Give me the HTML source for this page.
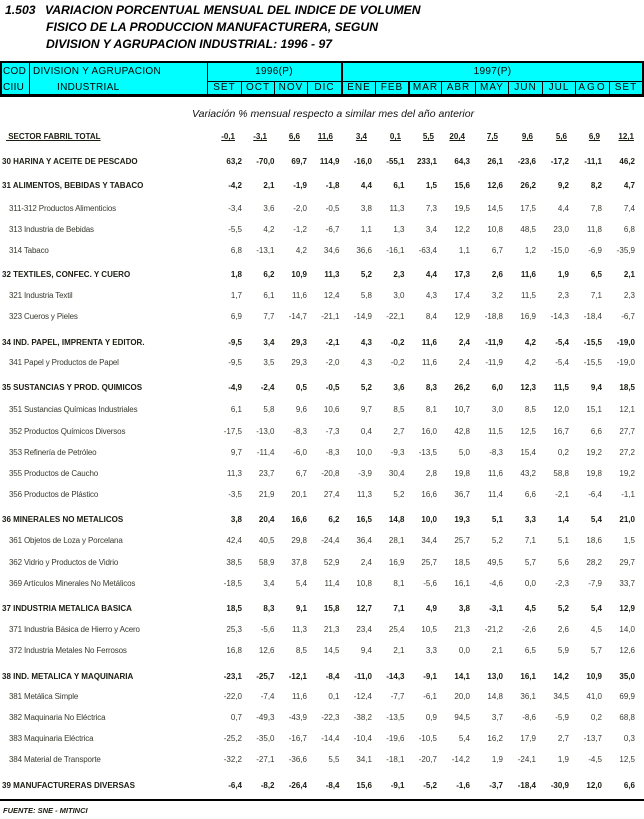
<!DOCTYPE html>
<html>
<head>
<meta charset="utf-8">
<style>
html,body{margin:0;padding:0;}
body{width:644px;height:819px;position:relative;overflow:hidden;background:#fff;font-family:"Liberation Sans",Arial,sans-serif;color:#000;}
.a{position:absolute;white-space:nowrap;}
.t{position:absolute;font-weight:bold;font-style:italic;font-size:12.2px;line-height:17px;height:17px;white-space:nowrap;color:#000;}
.k{position:absolute;background:#000;}
.h{position:absolute;font-size:10px;line-height:12px;height:12px;letter-spacing:0.3px;white-space:nowrap;color:#000;}
.m{position:absolute;top:82px;font-size:10px;line-height:12px;height:12px;letter-spacing:1px;text-align:center;white-space:nowrap;color:#000;}
.r{position:absolute;left:0;width:644px;height:10px;line-height:10px;font-size:8px;color:#3a3a30;white-space:nowrap;}
.r.b{font-weight:bold;color:#1c1c12;}
.r .l{position:absolute;left:9px;letter-spacing:-0.15px;}
.r.b .l{left:2px;letter-spacing:0;}
.r i{font-style:normal;position:absolute;width:40px;text-align:right;}
.r i:nth-of-type(1){left:202px}
.r i:nth-of-type(2){left:234.5px}
.r i:nth-of-type(3){left:267px}
.r i:nth-of-type(4){left:299.5px}
.r i:nth-of-type(5){left:332px}
.r i:nth-of-type(6){left:364.5px}
.r i:nth-of-type(7){left:397px}
.r i:nth-of-type(8){left:430px}
.r i:nth-of-type(9){left:463px}
.r i:nth-of-type(10){left:496px}
.r i:nth-of-type(11){left:529px}
.r i:nth-of-type(12){left:562px}
.r i:nth-of-type(13){left:595px}
.s i{text-decoration:underline;}
.s .l{text-decoration:underline;left:6px !important;}
.s i:nth-of-type(1){left:195px}
.s i:nth-of-type(2){left:227px}
.s i:nth-of-type(3){left:260px}
.s i:nth-of-type(4){left:293px}
.s i:nth-of-type(5){left:327px}
.s i:nth-of-type(6){left:361px}
.s i:nth-of-type(7){left:394px}
.s i:nth-of-type(8){left:425px}
.s i:nth-of-type(9){left:458px}
.s i:nth-of-type(10){left:493px}
.s i:nth-of-type(11){left:527px}
.s i:nth-of-type(12){left:560px}
.s i:nth-of-type(13){left:594px}
</style>
</head>
<body>

<!-- Title -->
<div class="t" style="left:5px;top:1.5px;">1.503</div>
<div class="t" style="left:45px;top:1.5px;">VARIACION PORCENTUAL MENSUAL DEL INDICE DE VOLUMEN</div>
<div class="t" style="left:46px;top:18.5px;">FISICO DE LA PRODUCCION MANUFACTURERA, SEGUN</div>
<div class="t" style="left:46px;top:35.5px;">DIVISION Y AGRUPACION INDUSTRIAL: 1996 - 97</div>

<!-- Header box -->
<div class="a" style="left:0;top:61px;width:644px;height:36px;background:#00ffff;"></div>
<div class="k" style="left:0;top:61px;width:644px;height:2px;"></div>
<div class="k" style="left:0;top:94px;width:644px;height:3px;"></div>
<div class="k" style="left:0;top:61px;width:2px;height:36px;"></div>
<div class="k" style="left:642px;top:61px;width:2px;height:36px;"></div>
<div class="k" style="left:207px;top:81px;width:437px;height:1px;"></div>
<div class="k" style="left:29px;top:61px;width:1px;height:36px;"></div>
<div class="k" style="left:207px;top:61px;width:1px;height:36px;"></div>
<div class="k" style="left:341px;top:61px;width:2px;height:36px;"></div>
<div class="k" style="left:241px;top:81px;width:1px;height:14px;"></div>
<div class="k" style="left:274px;top:81px;width:1px;height:14px;"></div>
<div class="k" style="left:307px;top:81px;width:1px;height:14px;"></div>
<div class="k" style="left:375px;top:81px;width:1px;height:14px;"></div>
<div class="k" style="left:408px;top:81px;width:2px;height:14px;"></div>
<div class="k" style="left:441px;top:81px;width:1px;height:14px;"></div>
<div class="k" style="left:475px;top:81px;width:1px;height:14px;"></div>
<div class="k" style="left:508px;top:81px;width:1px;height:14px;"></div>
<div class="k" style="left:542px;top:81px;width:1px;height:14px;"></div>
<div class="k" style="left:575px;top:81px;width:1px;height:14px;"></div>
<div class="k" style="left:609px;top:81px;width:1px;height:14px;"></div>

<div class="h" style="left:3px;top:66px;">COD</div>
<div class="h" style="left:33px;top:66px;">DIVISION Y AGRUPACION</div>
<div class="h" style="left:3px;top:82px;">CIIU</div>
<div class="h" style="left:57px;top:82px;">INDUSTRIAL</div>
<div class="h" style="left:207px;width:134px;text-align:center;top:66px;">1996(P)</div>
<div class="h" style="left:343px;width:299px;text-align:center;top:66px;">1997(P)</div>

<div class="m" style="left:208px;width:33px;">SET</div>
<div class="m" style="left:242px;width:32px;">OCT</div>
<div class="m" style="left:275px;width:32px;">NOV</div>
<div class="m" style="left:308px;width:33px;">DIC</div>
<div class="m" style="left:343px;width:32px;">ENE</div>
<div class="m" style="left:376px;width:32px;">FEB</div>
<div class="m" style="left:410px;width:31px;">MAR</div>
<div class="m" style="left:442px;width:33px;">ABR</div>
<div class="m" style="left:476px;width:32px;">MAY</div>
<div class="m" style="left:509px;width:33px;">JUN</div>
<div class="m" style="left:543px;width:32px;">JUL</div>
<div class="m" style="left:576px;width:33px;letter-spacing:2px;">AGO</div>
<div class="m" style="left:610px;width:32px;">SET</div>

<!-- Subtitle -->
<div class="a" style="left:192px;top:108px;font-size:10.5px;line-height:12px;font-style:italic;color:#111;">Variación % mensual respecto a similar mes del año anterior</div>

<!-- Rows -->
<div class="r b s" style="top:132px;"><span class="l">&nbsp;SECTOR FABRIL TOTAL</span><i>-0,1</i><i>-3,1</i><i>6,6</i><i>11,6</i><i>3,4</i><i>0,1</i><i>5,5</i><i>20,4</i><i>7,5</i><i>9,6</i><i>5,6</i><i>6,9</i><i>12,1</i></div>

<div class="r b" style="top:157px;"><span class="l">30 HARINA Y ACEITE DE PESCADO</span><i>63,2</i><i>-70,0</i><i>69,7</i><i>114,9</i><i>-16,0</i><i>-55,1</i><i>233,1</i><i>64,3</i><i>26,1</i><i>-23,6</i><i>-17,2</i><i>-11,1</i><i>46,2</i></div>

<div class="r b" style="top:181px;"><span class="l">31 ALIMENTOS, BEBIDAS Y TABACO</span><i>-4,2</i><i>2,1</i><i>-1,9</i><i>-1,8</i><i>4,4</i><i>6,1</i><i>1,5</i><i>15,6</i><i>12,6</i><i>26,2</i><i>9,2</i><i>8,2</i><i>4,7</i></div>
<div class="r" style="top:204px;"><span class="l">311-312 Productos Alimenticios</span><i>-3,4</i><i>3,6</i><i>-2,0</i><i>-0,5</i><i>3,8</i><i>11,3</i><i>7,3</i><i>19,5</i><i>14,5</i><i>17,5</i><i>4,4</i><i>7,8</i><i>7,4</i></div>
<div class="r" style="top:224.5px;"><span class="l">313 Industria de Bebidas</span><i>-5,5</i><i>4,2</i><i>-1,2</i><i>-6,7</i><i>1,1</i><i>1,3</i><i>3,4</i><i>12,2</i><i>10,8</i><i>48,5</i><i>23,0</i><i>11,8</i><i>6,8</i></div>
<div class="r" style="top:245.5px;"><span class="l">314 Tabaco</span><i>6,8</i><i>-13,1</i><i>4,2</i><i>34,6</i><i>36,6</i><i>-16,1</i><i>-63,4</i><i>1,1</i><i>6,7</i><i>1,2</i><i>-15,0</i><i>-6,9</i><i>-35,9</i></div>

<div class="r b" style="top:270px;"><span class="l">32 TEXTILES, CONFEC. Y CUERO</span><i>1,8</i><i>6,2</i><i>10,9</i><i>11,3</i><i>5,2</i><i>2,3</i><i>4,4</i><i>17,3</i><i>2,6</i><i>11,6</i><i>1,9</i><i>6,5</i><i>2,1</i></div>
<div class="r" style="top:290.5px;"><span class="l">321 Industria Textil</span><i>1,7</i><i>6,1</i><i>11,6</i><i>12,4</i><i>5,8</i><i>3,0</i><i>4,3</i><i>17,4</i><i>3,2</i><i>11,5</i><i>2,3</i><i>7,1</i><i>2,3</i></div>
<div class="r" style="top:312px;"><span class="l">323 Cueros y Pieles</span><i>6,9</i><i>7,7</i><i>-14,7</i><i>-21,1</i><i>-14,9</i><i>-22,1</i><i>8,4</i><i>12,9</i><i>-18,8</i><i>16,9</i><i>-14,3</i><i>-18,4</i><i>-6,7</i></div>

<div class="r b" style="top:337.5px;"><span class="l">34 IND. PAPEL, IMPRENTA Y EDITOR.</span><i>-9,5</i><i>3,4</i><i>29,3</i><i>-2,1</i><i>4,3</i><i>-0,2</i><i>11,6</i><i>2,4</i><i>-11,9</i><i>4,2</i><i>-5,4</i><i>-15,5</i><i>-19,0</i></div>
<div class="r" style="top:358px;"><span class="l">341 Papel y Productos de Papel</span><i>-9,5</i><i>3,5</i><i>29,3</i><i>-2,0</i><i>4,3</i><i>-0,2</i><i>11,6</i><i>2,4</i><i>-11,9</i><i>4,2</i><i>-5,4</i><i>-15,5</i><i>-19,0</i></div>

<div class="r b" style="top:383px;"><span class="l">35 SUSTANCIAS Y PROD. QUIMICOS</span><i>-4,9</i><i>-2,4</i><i>0,5</i><i>-0,5</i><i>5,2</i><i>3,6</i><i>8,3</i><i>26,2</i><i>6,0</i><i>12,3</i><i>11,5</i><i>9,4</i><i>18,5</i></div>
<div class="r" style="top:405px;"><span class="l">351 Sustancias Químicas Industriales</span><i>6,1</i><i>5,8</i><i>9,6</i><i>10,6</i><i>9,7</i><i>8,5</i><i>8,1</i><i>10,7</i><i>3,0</i><i>8,5</i><i>12,0</i><i>15,1</i><i>12,1</i></div>
<div class="r" style="top:426.5px;"><span class="l">352 Productos Químicos Diversos</span><i>-17,5</i><i>-13,0</i><i>-8,3</i><i>-7,3</i><i>0,4</i><i>2,7</i><i>16,0</i><i>42,8</i><i>11,5</i><i>12,5</i><i>16,7</i><i>6,6</i><i>27,7</i></div>
<div class="r" style="top:447.5px;"><span class="l">353 Refinería de Petróleo</span><i>9,7</i><i>-11,4</i><i>-6,0</i><i>-8,3</i><i>10,0</i><i>-9,3</i><i>-13,5</i><i>5,0</i><i>-8,3</i><i>15,4</i><i>0,2</i><i>19,2</i><i>27,2</i></div>
<div class="r" style="top:468.5px;"><span class="l">355 Productos de Caucho</span><i>11,3</i><i>23,7</i><i>6,7</i><i>-20,8</i><i>-3,9</i><i>30,4</i><i>2,8</i><i>19,8</i><i>11,6</i><i>43,2</i><i>58,8</i><i>19,8</i><i>19,2</i></div>
<div class="r" style="top:489.5px;"><span class="l">356 Productos de Plástico</span><i>-3,5</i><i>21,9</i><i>20,1</i><i>27,4</i><i>11,3</i><i>5,2</i><i>16,6</i><i>36,7</i><i>11,4</i><i>6,6</i><i>-2,1</i><i>-6,4</i><i>-1,1</i></div>

<div class="r b" style="top:515px;"><span class="l">36 MINERALES NO METALICOS</span><i>3,8</i><i>20,4</i><i>16,6</i><i>6,2</i><i>16,5</i><i>14,8</i><i>10,0</i><i>19,3</i><i>5,1</i><i>3,3</i><i>1,4</i><i>5,4</i><i>21,0</i></div>
<div class="r" style="top:536px;"><span class="l">361 Objetos de Loza y Porcelana</span><i>42,4</i><i>40,5</i><i>29,8</i><i>-24,4</i><i>36,4</i><i>28,1</i><i>34,4</i><i>25,7</i><i>5,2</i><i>7,1</i><i>5,1</i><i>18,6</i><i>1,5</i></div>
<div class="r" style="top:557.5px;"><span class="l">362 Vidrio y Productos de Vidrio</span><i>38,5</i><i>58,9</i><i>37,8</i><i>52,9</i><i>2,4</i><i>16,9</i><i>25,7</i><i>18,5</i><i>49,5</i><i>5,7</i><i>5,6</i><i>28,2</i><i>29,7</i></div>
<div class="r" style="top:578.5px;"><span class="l">369 Artículos Minerales No Metálicos</span><i>-18,5</i><i>3,4</i><i>5,4</i><i>11,4</i><i>10,8</i><i>8,1</i><i>-5,6</i><i>16,1</i><i>-4,6</i><i>0,0</i><i>-2,3</i><i>-7,9</i><i>33,7</i></div>

<div class="r b" style="top:603.5px;"><span class="l">37 INDUSTRIA METALICA BASICA</span><i>18,5</i><i>8,3</i><i>9,1</i><i>15,8</i><i>12,7</i><i>7,1</i><i>4,9</i><i>3,8</i><i>-3,1</i><i>4,5</i><i>5,2</i><i>5,4</i><i>12,9</i></div>
<div class="r" style="top:625px;"><span class="l">371 Industria Básica de Hierro y Acero</span><i>25,3</i><i>-5,6</i><i>11,3</i><i>21,3</i><i>23,4</i><i>25,4</i><i>10,5</i><i>21,3</i><i>-21,2</i><i>-2,6</i><i>2,6</i><i>4,5</i><i>14,0</i></div>
<div class="r" style="top:646px;"><span class="l">372 Industria Metales No Ferrosos</span><i>16,8</i><i>12,6</i><i>8,5</i><i>14,5</i><i>9,4</i><i>2,1</i><i>3,3</i><i>0,0</i><i>2,1</i><i>6,5</i><i>5,9</i><i>5,7</i><i>12,6</i></div>

<div class="r b" style="top:671.5px;"><span class="l">38 IND. METALICA Y MAQUINARIA</span><i>-23,1</i><i>-25,7</i><i>-12,1</i><i>-8,4</i><i>-11,0</i><i>-14,3</i><i>-9,1</i><i>14,1</i><i>13,0</i><i>16,1</i><i>14,2</i><i>10,9</i><i>35,0</i></div>
<div class="r" style="top:692px;"><span class="l">381 Metálica Simple</span><i>-22,0</i><i>-7,4</i><i>11,6</i><i>0,1</i><i>-12,4</i><i>-7,7</i><i>-6,1</i><i>20,0</i><i>14,8</i><i>36,1</i><i>34,5</i><i>41,0</i><i>69,9</i></div>
<div class="r" style="top:713px;"><span class="l">382 Maquinaria No Eléctrica</span><i>0,7</i><i>-49,3</i><i>-43,9</i><i>-22,3</i><i>-38,2</i><i>-13,5</i><i>0,9</i><i>94,5</i><i>3,7</i><i>-8,6</i><i>-5,9</i><i>0,2</i><i>68,8</i></div>
<div class="r" style="top:734px;"><span class="l">383 Maquinaria Eléctrica</span><i>-25,2</i><i>-35,0</i><i>-16,7</i><i>-14,4</i><i>-10,4</i><i>-19,6</i><i>-10,5</i><i>5,4</i><i>16,2</i><i>17,9</i><i>2,7</i><i>-13,7</i><i>0,3</i></div>
<div class="r" style="top:755px;"><span class="l">384 Material de Transporte</span><i>-32,2</i><i>-27,1</i><i>-36,6</i><i>5,5</i><i>34,1</i><i>-18,1</i><i>-20,7</i><i>-14,2</i><i>1,9</i><i>-24,1</i><i>1,9</i><i>-4,5</i><i>12,5</i></div>

<div class="r b" style="top:780.5px;"><span class="l">39 MANUFACTURERAS DIVERSAS</span><i>-6,4</i><i>-8,2</i><i>-26,4</i><i>-8,4</i><i>15,6</i><i>-9,1</i><i>-5,2</i><i>-1,6</i><i>-3,7</i><i>-18,4</i><i>-30,9</i><i>12,0</i><i>6,6</i></div>

<!-- Bottom rule and source -->
<div class="k" style="left:0;top:799px;width:644px;height:2px;"></div>
<div class="a" style="left:3px;top:806px;font-size:7.5px;line-height:10px;font-weight:bold;font-style:italic;color:#1c1c12;">FUENTE: SNE - MITINCI</div>

</body>
</html>
